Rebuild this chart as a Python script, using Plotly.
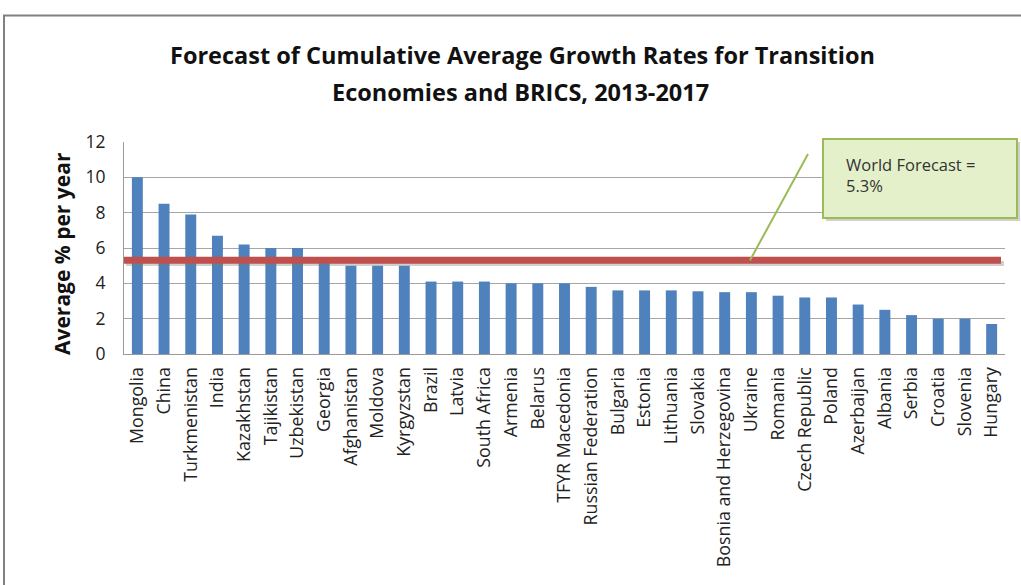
import plotly.graph_objects as go

# Forecast average growth, % per year, 2013-2017
countries = [
    "Mongolia", "China", "Turkmenistan", "India", "Kazakhstan", "Tajikistan",
    "Uzbekistan", "Georgia", "Afghanistan", "Moldova", "Kyrgyzstan", "Brazil",
    "Latvia", "South Africa", "Armenia", "Belarus", "TFYR Macedonia",
    "Russian Federation", "Bulgaria", "Estonia", "Lithuania", "Slovakia",
    "Bosnia and Herzegovina", "Ukraine", "Romania", "Czech Republic", "Poland",
    "Azerbaijan", "Albania", "Serbia", "Croatia", "Slovenia", "Hungary",
]
growth = [
    10.0, 8.5, 7.9, 6.7, 6.2, 6.0,
    6.0, 5.4, 5.0, 5.0, 5.0, 4.1,
    4.1, 4.1, 4.0, 4.0, 4.0,
    3.8, 3.6, 3.6, 3.6, 3.55,
    3.5, 3.5, 3.3, 3.2, 3.2,
    2.8, 2.5, 2.2, 2.0, 2.0, 1.7,
]
world_forecast = 5.3
y_ticks = [0, 2, 4, 6, 8, 10, 12]

W, H = 1021, 585
L, R, T, B = 124, 16, 142, 231
PW, PH = W - L - R, H - T - B


def px(x):
    return (x - L) / PW


def py(y):
    return (H - B - y) / PH


fig = go.Figure(go.Bar(
    x=countries, y=growth, width=0.41,
    marker=dict(color="#4F81BD", line=dict(width=0)),
))

shapes = [
    # chart frame
    dict(type="rect", xref="paper", yref="paper",
         x0=px(4), x1=px(1040), y0=py(15.5), y1=py(620),
         line=dict(color="#808080", width=2), fillcolor="rgba(0,0,0,0)", layer="below"),
    # world forecast line with soft shadow
    dict(type="line", xref="paper", yref="y", x0=px(126), x1=px(1004),
         y0=world_forecast - 0.18, y1=world_forecast - 0.18,
         line=dict(color="rgba(120,120,120,0.35)", width=5)),
    dict(type="line", xref="paper", yref="y", x0=0, x1=px(1001),
         y0=world_forecast, y1=world_forecast,
         line=dict(color="#C0504D", width=7)),
    # callout pointer
    dict(type="line", xref="paper", yref="paper",
         x0=px(808), y0=py(154), x1=px(750), y1=world_forecast / 12,
         line=dict(color="#9BBB59", width=2)),
    # callout box shadow and box
    dict(type="rect", xref="paper", yref="paper",
         x0=px(826), x1=px(1020), y0=py(142), y1=py(221),
         line=dict(width=0), fillcolor="rgba(150,150,150,0.45)"),
    dict(type="rect", xref="paper", yref="paper",
         x0=px(823), x1=px(1017), y0=py(139), y1=py(218),
         line=dict(color="#9BBB59", width=2), fillcolor="#E4F0C9"),
]

annotations = [
    dict(text="<b>Forecast of Cumulative Average Growth Rates for Transition</b>",
         xref="paper", yref="paper", x=px(522), y=py(55),
         xanchor="center", yanchor="middle", showarrow=False,
         font=dict(family="Open Sans", size=23.5, color="#111")),
    dict(text="<b>Economies and BRICS, 2013-2017</b>",
         xref="paper", yref="paper", x=px(520), y=py(92),
         xanchor="center", yanchor="middle", showarrow=False,
         font=dict(family="Open Sans", size=23.5, color="#111")),
    dict(text="<b>Average % per year</b>", textangle=-90,
         xref="paper", yref="paper", x=px(62), y=py(254),
         xanchor="center", yanchor="middle", showarrow=False,
         font=dict(family="Open Sans", size=21, color="#111")),
    dict(text="World Forecast =<br>5.3%", align="left",
         xref="paper", yref="paper", x=px(844), y=py(151),
         xanchor="left", yanchor="top", showarrow=False,
         font=dict(family="Open Sans", size=16.5, color="#333")),
]

fig.update_layout(
    width=W, height=H,
    margin=dict(l=L, r=R, t=T, b=B),
    paper_bgcolor="white", plot_bgcolor="white",
    showlegend=False, bargap=0.5,
    shapes=shapes, annotations=annotations,
    font=dict(family="Open Sans", color="#222"),
)
fig.update_xaxes(
    range=[-0.5, len(countries) - 0.5], tickangle=-90,
    tickfont=dict(size=17.8, color="#222"),
    showline=True, linecolor="#9a9a9a", linewidth=1,
    ticks="outside", ticklen=5, tickcolor="rgba(0,0,0,0)",
    showgrid=False,
)
fig.update_yaxes(
    range=[0, 12], tickvals=y_ticks,
    tickfont=dict(size=17.5, color="#222"),
    showgrid=True, gridcolor="#a6a6a6", gridwidth=1,
    showline=True, linecolor="#9a9a9a", linewidth=1,
    ticks="outside", ticklen=14, tickcolor="rgba(0,0,0,0)",
    zeroline=False,
)

fig.write_html("out.html")
